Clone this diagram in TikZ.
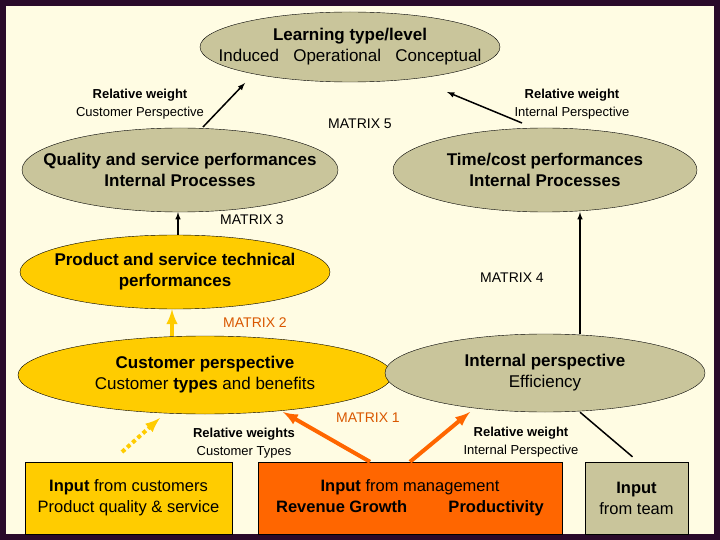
\documentclass[tikz,border=0pt]{standalone}
\usepackage{fontspec}
\setmainfont{Liberation Sans}
\usepackage{tikz}
\usetikzlibrary{shapes.geometric}
\definecolor{olive}{HTML}{C9C59B}
\definecolor{gold}{HTML}{FFCC00}
\definecolor{rust}{HTML}{FF6600}
\definecolor{cream}{HTML}{FFFCE3}
\definecolor{frame}{HTML}{2A0A2A}
\newcommand{\twoline}[2]{\makebox[0pt]{#1}\\\makebox[0pt]{#2}}
\tikzset{
  oval/.style={draw,ellipse,inner sep=0pt,align=center,font=\fontsize{17}{21}\selectfont},
  box/.style={draw,inner sep=0pt,align=center,font=\fontsize{16.5}{21}\selectfont},
  note/.style={align=center,font=\fontsize{13}{18}\selectfont},
  mat/.style={font=\fontsize{14}{16}\selectfont}
}
\begin{document}
\begin{tikzpicture}[x=1pt,y=-1pt]
  \fill[frame] (0,0) rectangle (720,540);
  \fill[cream] (6,6) rectangle (714,534);
  \useasboundingbox (0,0) rectangle (720,540);
  \node[oval,fill=olive,minimum width=300,minimum height=70] (learn) at (350,47) {\twoline{\textbf{Learning type/level}}{Induced~~~Operational~~~Conceptual}};
  \node[oval,fill=olive,minimum width=316,minimum height=84] (quality) at (180,170) {\twoline{\textbf{Quality and service performances}}{\textbf{Internal Processes}}};
  \node[oval,fill=olive,minimum width=304,minimum height=84] (time) at (545,170) {\twoline{\textbf{Time/cost performances}}{\textbf{Internal Processes}}};
  \node[oval,fill=gold,minimum width=310,minimum height=74] (product) at (175,272) {\twoline{\textbf{Product and service technical}}{\textbf{performances}}};
  \node[oval,fill=gold,minimum width=374,minimum height=78] (customer) at (205,375) {\twoline{\textbf{Customer perspective}}{Customer \textbf{types} and benefits}};
  \node[oval,fill=olive,minimum width=320,minimum height=78] (internal) at (545,373) {\twoline{\textbf{Internal perspective}}{Efficiency}};
  \node[box,fill=gold,minimum width=207,minimum height=72] (incust) at (128.5,498) {\twoline{\textbf{Input} from customers}{Product quality \& service}};
  \node[box,fill=rust,minimum width=304,minimum height=72] (inman) at (410,498) {\twoline{\textbf{Input} from management}{\textbf{Revenue Growth}\hspace{2.5em}\textbf{Productivity}}};
  \node[box,fill=olive,minimum width=103,minimum height=72] (inteam) at (636.5,498) {\twoline{\textbf{Input}}{from team}};
  \node[note] (w1) at (140,104) {\textbf{Relative weight}\\Customer Perspective};
  \node[note] (w2) at (572,104) {\textbf{Relative weight}\\Internal Perspective};
  \node[note] (w3) at (244,443) {\textbf{Relative weights}\\Customer Types};
  \node[note] (w4) at (521,442) {\textbf{Relative weight}\\Internal Perspective};
  \node[mat] (m5) at (360,124) {MATRIX 5};
  \node[mat] (m3) at (252,220) {MATRIX 3};
  \node[mat] (m4) at (512,278) {MATRIX 4};
  \node[mat,text=rust!85!black] (m2) at (255,323) {MATRIX 2};
  \node[mat,text=rust!85!black] (m1) at (368,418) {MATRIX 1};
  \draw [-latex,line width=1.5pt] (203,127) -- (245,83);
  \draw [-latex,line width=1.5pt] (522,123) -- (447,92);
  \draw [-latex,line width=1.5pt] (product.north -| 178,0) -- (quality.south -| 178,0);
  \draw [-latex,line width=1.5pt] (internal.north -| 580,0) -- (time.south -| 580,0);
  \draw [-latex,line width=4pt,gold] (customer.north -| 172,0) -- (product.south -| 172,0);
  \draw [-latex,line width=4pt,gold,dash pattern=on 4pt off 3pt] (122,452) -- (160,418);
  \draw [-latex,line width=4pt,rust] (inman.north -| 370,0) -- (283,412);
  \draw [-latex,line width=4pt,rust] (inman.north -| 410,0) -- (470,412);
  \draw [line width=1.5pt] (inteam.north) ++(-4,-5) -- (internal.south -| 580,0);
\end{tikzpicture}
\end{document}
